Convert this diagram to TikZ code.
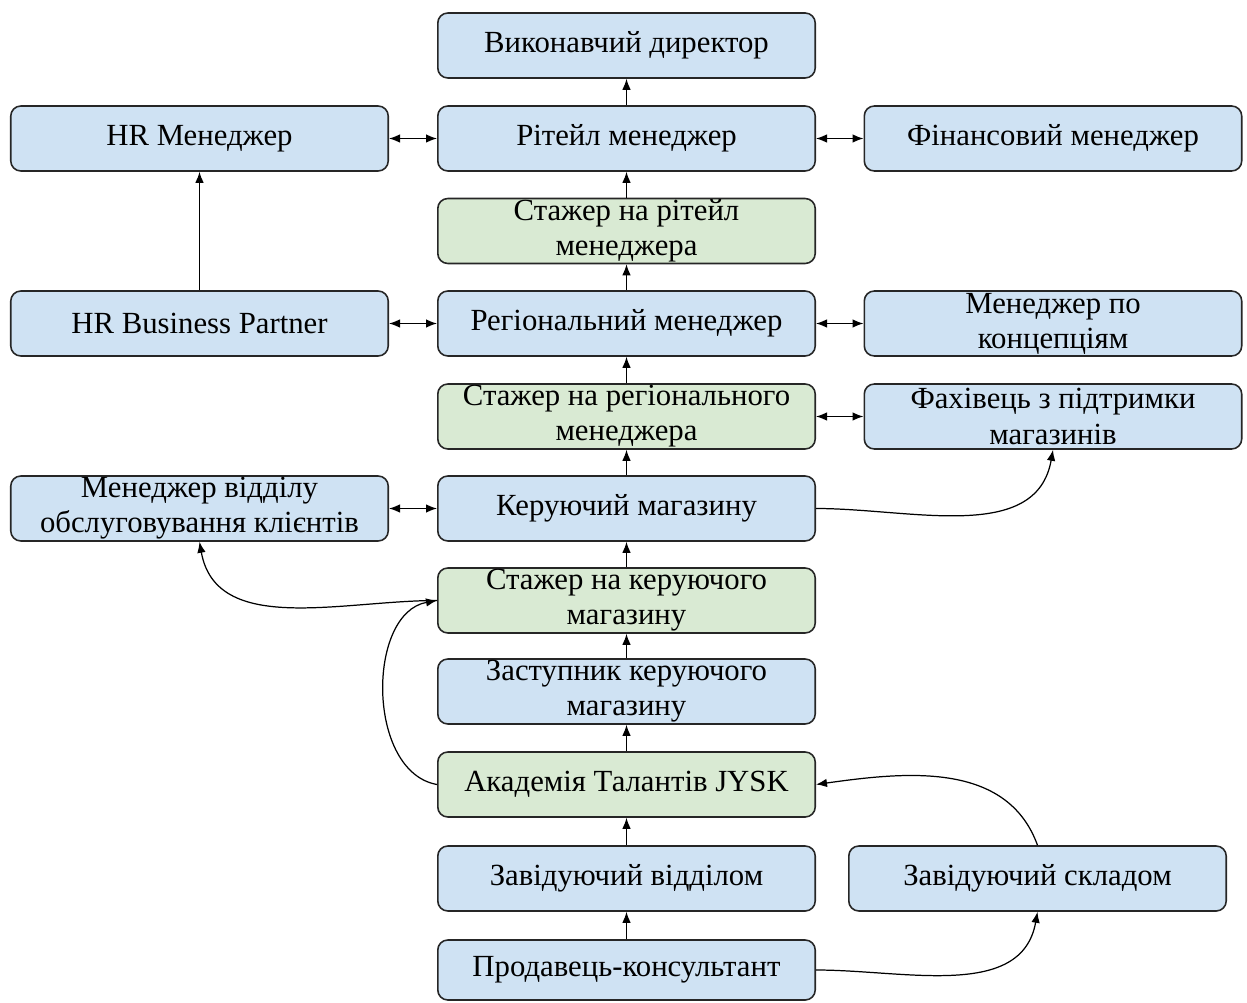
\documentclass[tikz,border=0pt]{standalone}
\usepackage{fontspec}
\setmainfont{Liberation Serif}
\usetikzlibrary{arrows.meta}
\definecolor{boxblue}{HTML}{CFE2F3}
\definecolor{boxgreen}{HTML}{D9EAD3}

\begin{document}
\begin{tikzpicture}[x=0.02cm,y=0.02cm,
    box/.style={draw=black!85, line width=0.9pt, rounded corners=0.2cm, fill=boxblue,
        minimum width=7.55cm, minimum height=1.3cm, inner sep=0pt, align=center,
        font=\fontsize{17.5}{20}\selectfont},
    trainee/.style={box, fill=boxgreen},
    link/.style={line width=0.7pt, -{Latex[length=2.2mm,width=1.7mm]}},
    twoway/.style={line width=0.7pt, {Latex[length=2.2mm,width=1.7mm]}-{Latex[length=2.2mm,width=1.7mm]}}]
    \useasboundingbox (0,0) rectangle (1247,1002);

    % central column
    \node[box] (exec) at (626.5,956.5) {Виконавчий директор};
    \node[box] (retail) at (626.5,863.5) {Рітейл менеджер};
    \node[trainee] (trret) at (626.5,771) {Стажер на рітейл\\менеджера};
    \node[box] (regional) at (626.5,678.5) {Регіональний менеджер};
    \node[trainee] (trreg) at (626.5,585.5) {Стажер на регіонального\\менеджера};
    \node[box] (store) at (626.5,493.5) {Керуючий магазину};
    \node[trainee] (trstore) at (626.5,401.5) {Стажер на керуючого\\магазину};
    \node[box] (deputy) at (626.5,310.5) {Заступник керуючого\\магазину};
    \node[trainee] (academy) at (626.5,217.5) {Академія Талантів JYSK};
    \node[box] (dept) at (626.5,123.5) {Завідуючий відділом};
    \node[box, minimum height=1.2cm] (seller) at (626.5,32) {Продавець-консультант};

    % left column
    \node[box] (hrman) at (199.5,863.5) {HR Менеджер};
    \node[box] (hrbp) at (199.5,678.5) {HR Business Partner};
    \node[box] (custserv) at (199.5,493.5) {Менеджер відділу\\обслуговування клієнтів};

    % right column
    \node[box] (finance) at (1053,863.5) {Фінансовий менеджер};
    \node[box] (concept) at (1053,678.5) {Менеджер по\\концепціям};
    \node[box] (support) at (1053,585.5) {Фахівець з підтримки\\магазинів};
    \node[box] (warehouse) at (1037.5,123.5) {Завідуючий складом};

    % career steps
    \draw[link] (retail) -- (exec);
    \draw[link] (trret) -- (retail);
    \draw[link] (regional) -- (trret);
    \draw[link] (trreg) -- (regional);
    \draw[link] (store) -- (trreg);
    \draw[link] (trstore) -- (store);
    \draw[link] (deputy) -- (trstore);
    \draw[link] (academy) -- (deputy);
    \draw[link] (dept) -- (academy);
    \draw[link] (seller) -- (dept);
    \draw[link] (hrbp) -- (hrman);

    % side links
    \draw[twoway] (hrman) -- (retail);
    \draw[twoway] (retail) -- (finance);
    \draw[twoway] (hrbp) -- (regional);
    \draw[twoway] (regional) -- (concept);
    \draw[twoway] (trreg) -- (support);
    \draw[twoway] (custserv) -- (store);

    % curved moves
    \draw[link] (store.east) to[out=0,in=-100] (support.south);
    \draw[link] (trstore.west) to[out=180,in=-80] (custserv.south);
    \draw[link] (academy.west) to[out=170,in=190] (trstore.west);
    \draw[link] (warehouse.north) to[out=110,in=8] (academy.east);
    \draw[link] (seller.east) to[out=0,in=-100] (warehouse.south);
\end{tikzpicture}
\end{document}
